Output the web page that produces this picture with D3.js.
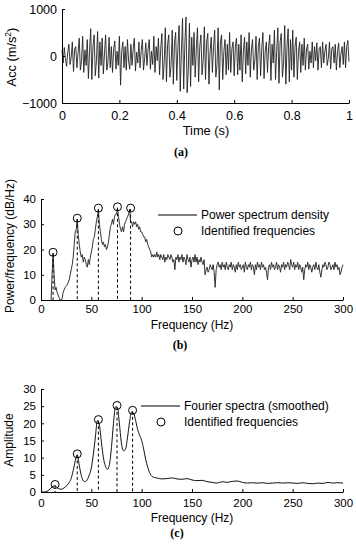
<!DOCTYPE html>
<html>
<head>
<meta charset="utf-8">
<script src="https://cdn.jsdelivr.net/npm/d3@7"></script>
<style>
  body { margin: 0; background: #fff; }
  svg { display: block; font-family: 'Liberation Sans', Arial, sans-serif; }
  .axis path, .axis line { stroke: #000; stroke-width: 1; }
  .axis text { font-size: 11.5px; fill: #000; }
  .axis.big text { font-size: 12.5px; }
  .lbl { font-size: 12px; fill: #000; }
  .lbl.big { font-size: 12.8px; }
  .panel { font-family: 'Liberation Serif', 'Times New Roman', serif; font-weight: bold; font-size: 12px; }
</style>
</head>
<body>
<div id="chart"></div>
<script>
// (a) acceleration record, sampled every 0.004 s from 0 to 1 s
const accStep = 0.004
const accValues = [
  120, -150, 180, -60, -220, 80, 250, -180, -40, 300, -330, 150, 200, -250, 60, 380, -300, -100, 420, -350, 130, -200, 350, -480, 100,
  580, -500, 200, 450, -420, -100, 520, -470, 300, -200, 380, -380, 50, 450, -300, -150, 400, -250, 200, -350, 150, 320, -280, 100, -200,
  420, -620, 100, 300, -250, 200, -300, 350, -100, -280, 250, -200, 150, 380, -320, 80, -150, 300, -250, 120, 350, -300, -50, 280, -200,
  150, 350, -280, 100, -180, 420, -350, 200, -100, 380, -400, 150, 480, -500, -150, 600, -550, 250, 450, -450, -200, 550, -600, 300, 500,
  -520, 200, 650, -750, 100, 800, -700, 250, 830, -780, -300, 700, -650, 400, -200, 500, -450, 150, 600, -550, 200, 450, -400, -100, 620,
  -500, 300, 480, -600, 100, 400, -350, 200, 550, -450, -200, 600, -720, 300, 450, -500, 100, 350, -400, 250, -300, 500, -350, 150, 300,
  -420, 200, 380, -400, 250, -300, 450, -550, 100, 400, -380, 300, -200, 500, -450, 150, 350, -300, -100, 420, -500, 200, 380, -420, 150,
  500, -480, 100, 300, -350, 200, 450, -520, 250, -150, 550, -500, 100, 600, -580, 300, 480, -450, -150, 650, -600, 200, 580, -550, 350,
  -300, 550, -450, 200, 400, -500, 100, 300, -350, 250, -200, 380, -300, 150, 250, -280, 100, -150, 300, -250, 200, -100, 280, -300, 150,
  200, -250, 300, -150, 100, 250, -200, -50, 300, -280, 150, 200, -150, 250, -300, 100, 280, -250, 50, 200, -180, 300, -250, 200, 330, -120
]
const timeTicks = [0, 0.2, 0.4, 0.6, 0.8, 1]
const accTicks = [-1000, 0, 1000]

// (b) power spectrum density, 1 Hz steps from 10 Hz to 300 Hz
const psdStart = 10
const psdValues = [
  0, 10, 18.5, 10, 4, 5, 3, 2, 1, 0,
  0, 0.5, 3, 4, 5, 5.5, 6, 7, 8, 10,
  12, 14, 17, 22, 27, 28, 32, 26, 22, 19,
  17, 18, 15, 17, 16, 14, 13, 16, 14, 17,
  19, 21, 24, 25, 28, 31, 33, 36, 30, 27,
  24, 22, 23, 21, 22, 20, 21, 23, 26, 29,
  30, 32, 30, 33, 34, 34, 36.5, 33, 30, 28,
  27, 29, 27, 30, 31, 32, 33, 34, 36, 31,
  31, 29, 31, 30, 31, 29, 30, 28, 29, 27,
  27, 26, 25, 25, 23, 24, 22, 21, 20, 19,
  17, 18, 17, 18, 17, 19, 17, 18, 16, 18,
  17, 16, 18, 15, 17, 16, 18, 17, 16, 18,
  17, 15, 16, 12, 17, 16, 18, 15, 17, 16,
  18, 15, 17, 16, 14, 18, 16, 15, 17, 13,
  16, 17, 15, 18, 15, 17, 14, 16, 15, 17,
  15, 14, 16, 10, 12, 13, 11, 12, 14, 13,
  12, 14, 11, 5, 12, 14, 15, 13, 14, 12,
  15, 13, 14, 12, 15, 13, 12, 14, 13, 15,
  12, 14, 13, 11, 14, 12, 15, 13, 14, 12,
  13, 14, 11, 15, 13, 12, 14, 13, 15, 12,
  14, 13, 10, 14, 12, 15, 13, 14, 12, 15,
  13, 14, 12, 13, 11, 8, 13, 14, 12, 15,
  13, 14, 12, 13, 15, 12, 14, 13, 11, 14,
  13, 15, 12, 14, 13, 15, 14, 12, 16, 14,
  13, 15, 12, 14, 13, 15, 12, 14, 13, 11,
  13, 8, 12, 14, 13, 15, 12, 14, 13, 11,
  13, 14, 12, 15, 13, 12, 14, 11, 9, 12,
  14, 13, 15, 14, 12, 13, 15, 14, 12, 13,
  14, 12, 15, 13, 14, 12, 13, 10, 11, 13,
  14
]
const psdPeakFreqs = [12, 36, 57, 76, 89]
const psdPeakValues = [18.5, 32, 36, 36.5, 36]
const psdTicks = [0, 10, 20, 30, 40]

// (c) smoothed Fourier amplitude
const fsFreqs = [
  0, 4, 6, 8, 10, 12, 14, 16, 18, 20, 22, 24, 26, 28, 30, 32, 34, 36, 38, 40,
  42, 44, 46, 48, 50, 52, 54, 56, 58, 60, 62, 64, 66, 68, 70, 72, 74, 76, 78, 80,
  82, 84, 86, 88, 90, 92, 94, 96, 98, 100, 102, 104, 106, 108, 110, 113, 116, 120, 125, 130,
  135, 140, 145, 150, 155, 160, 165, 170, 175, 180, 185, 190, 195, 200, 205, 210, 215, 220, 225, 230,
  235, 240, 245, 250, 255, 260, 265, 270, 275, 280, 285, 290, 295, 300
]
const fsValues = [
  0, 0, 0.2, 0.6, 1.2, 1.7, 1.8, 1.3, 0.9, 0.8, 1, 1.4, 2, 2.8, 4, 6.3, 9, 10.8, 7.8, 4.8,
  3.3, 3, 3.6, 5, 7, 11, 16, 20.8, 19.5, 14.5, 10, 7.5, 6.6, 8, 13, 20, 24.8, 24.5, 19.5, 14,
  12, 12.5, 16, 20.5, 23.3, 23, 20.8, 18.2, 16.5, 15, 12.5, 9.5, 7.2, 5.6, 4.6, 4.2, 4, 3.8, 3.9, 4.1,
  3.8, 3.7, 3.9, 3.5, 3.3, 3.4, 3, 2.8, 2.6, 3, 2.8, 3.1, 3.2, 2.8, 2.6, 2.7, 2.6, 2.7, 2.5, 2.6,
  2.7, 2.6, 2.7, 2.6, 2.5, 2.7, 2.5, 2.4, 2.6, 2.5, 2.8, 2.6, 2.7, 2.6
]
const fsPeakFreqs = [14, 36, 57, 75.5, 91]
const fsPeakValues = [1.9, 10.8, 20.8, 24.9, 23.5]
const fsTicks = [0, 5, 10, 15, 20, 25, 30]
const freqTicks = [0, 50, 100, 150, 200, 250, 300]

const width = 356
const height = 550

const svg = d3.select('#chart').append('svg')
  .attr('width', width)
  .attr('height', height)

const tickFmt = d => (d === 0 ? '0' : d3.format('')(d))

function drawAxes(x, y, xTicks, yTicks, xPad, cls) {
  svg.append('g')
    .attr('class', `axis ${cls || ''}`)
    .attr('transform', `translate(0 ${y.range()[0]})`)
    .call(d3.axisBottom(x).tickValues(xTicks).tickFormat(tickFmt)
      .tickSizeInner(-3).tickSizeOuter(0).tickPadding(xPad))

  svg.append('g')
    .attr('class', `axis ${cls || ''}`)
    .attr('transform', `translate(${x.range()[0]} 0)`)
    .call(d3.axisLeft(y).tickValues(yTicks).tickFormat(tickFmt)
      .tickSizeInner(-3).tickSizeOuter(0).tickPadding(5))
}

function drawPeaks(x, y, freqs, vals) {
  const g = svg.append('g')
  freqs.forEach((f, i) => {
    g.append('line')
      .attr('x1', x(f)).attr('x2', x(f))
      .attr('y1', y(vals[i])).attr('y2', y(0))
      .attr('stroke', '#000')
      .attr('stroke-width', 1)
      .attr('stroke-dasharray', '3,2.5')
    g.append('circle')
      .attr('cx', x(f)).attr('cy', y(vals[i]) - 1)
      .attr('r', 4)
      .attr('fill', 'none')
      .attr('stroke', '#000')
      .attr('stroke-width', 1)
  })
}

function drawLegend(lx, ly, label1, label2) {
  svg.append('line')
    .attr('x1', lx).attr('x2', lx + 39)
    .attr('y1', ly).attr('y2', ly)
    .attr('stroke', '#555').attr('stroke-width', 1.5)
  svg.append('text').attr('class', 'lbl')
    .attr('x', lx + 43).attr('y', ly + 4).text(label1)
  svg.append('circle')
    .attr('cx', lx + 20).attr('cy', ly + 16).attr('r', 4)
    .attr('fill', 'none').attr('stroke', '#000')
  svg.append('text').attr('class', 'lbl')
    .attr('x', lx + 43).attr('y', ly + 20).text(label2)
}

function yLabel(x, y, txt, cls) {
  return svg.append('text').attr('class', `lbl ${cls || ''}`)
    .attr('text-anchor', 'middle')
    .attr('transform', `translate(${x} ${y}) rotate(-90)`)
    .text(txt)
}

// ---- (a) time history
const xA = d3.scaleLinear().domain([0, 1]).range([62, 349])
const yA = d3.scaleLinear().domain([-1000, 1000]).range([103, 9])

svg.append('path')
  .datum(accValues)
  .attr('fill', 'none')
  .attr('stroke', '#222')
  .attr('stroke-width', 0.9)
  .attr('d', d3.line().x((d, i) => xA(i * accStep)).y(d => yA(d)))

drawAxes(xA, yA, timeTicks, accTicks, 8, 'big')

const accLbl = yLabel(16, 57, 'Acc (m/s', 'big')
accLbl.append('tspan').attr('baseline-shift', 'super').attr('font-size', '8.5px').text('2')
accLbl.append('tspan').text(')')

svg.append('text').attr('class', 'lbl big').attr('text-anchor', 'middle')
  .attr('x', 206).attr('y', 135).text('Time (s)')
svg.append('text').attr('class', 'panel').attr('text-anchor', 'middle')
  .attr('x', 181).attr('y', 156).text('(a)')

// ---- (b) power spectrum density
const xB = d3.scaleLinear().domain([0, 300]).range([41, 343])
const yB = d3.scaleLinear().domain([0, 40]).range([300, 199])

svg.append('path')
  .datum(psdValues)
  .attr('fill', 'none')
  .attr('stroke', '#333')
  .attr('stroke-width', 1)
  .attr('d', d3.line().x((d, i) => xB(psdStart + i)).y(d => yB(d)))

drawPeaks(xB, yB, psdPeakFreqs, psdPeakValues)
drawAxes(xB, yB, freqTicks, psdTicks, 5)
drawLegend(158, 215, 'Power spectrum density', 'Identified frequencies')

yLabel(14, 246, 'Power/frequency (dB/Hz)')
svg.append('text').attr('class', 'lbl').attr('text-anchor', 'middle')
  .attr('x', 192).attr('y', 329).text('Frequency (Hz)')
svg.append('text').attr('class', 'panel').attr('text-anchor', 'middle')
  .attr('x', 180).attr('y', 349).text('(b)')

// ---- (c) smoothed Fourier spectra
const xC = d3.scaleLinear().domain([0, 300]).range([41, 343])
const yC = d3.scaleLinear().domain([0, 30]).range([492, 389])

svg.append('path')
  .datum(fsValues)
  .attr('fill', 'none')
  .attr('stroke', '#111')
  .attr('stroke-width', 1)
  .attr('d', d3.line().curve(d3.curveMonotoneX).x((d, i) => xC(fsFreqs[i])).y(d => yC(d)))

drawPeaks(xC, yC, fsPeakFreqs, fsPeakValues)
drawAxes(xC, yC, freqTicks, fsTicks, 7)
drawLegend(141, 406, 'Fourier spectra (smoothed)', 'Identified frequencies')

yLabel(13, 440, 'Amplitude')
svg.append('text').attr('class', 'lbl').attr('text-anchor', 'middle')
  .attr('x', 192).attr('y', 522).text('Frequency (Hz)')
svg.append('text').attr('class', 'panel').attr('text-anchor', 'middle')
  .attr('x', 177).attr('y', 537).text('(c)')
</script>
</body>
</html>
